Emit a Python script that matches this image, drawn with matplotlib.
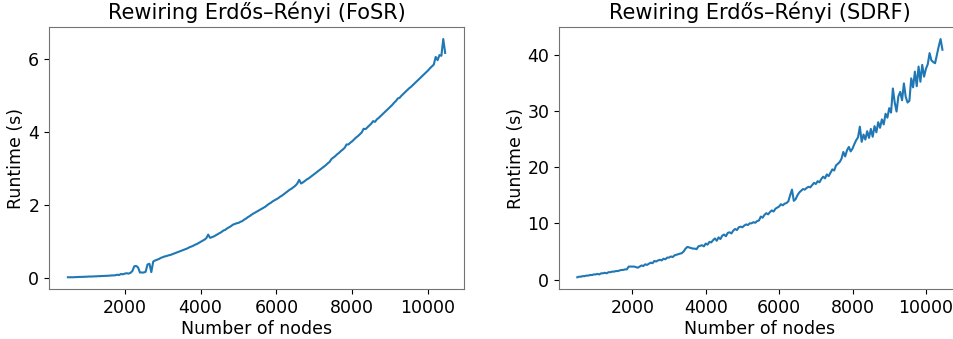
import numpy as np
import matplotlib.pyplot as plt

# graph sizes, 500 .. 10450 nodes in steps of 50
nodes = np.arange(500, 10500, 50)

# runtime (s) of FoSR rewiring per graph size
fosr_runtime = [
    0.03, 0.03, 0.03, 0.03, 0.035, 0.035, 0.04, 0.04, 0.04, 0.045,
    0.045, 0.05, 0.05, 0.05, 0.055, 0.055, 0.06, 0.06, 0.065, 0.065,
    0.07, 0.07, 0.075, 0.08, 0.08, 0.085, 0.10, 0.09, 0.12, 0.11,
    0.13, 0.14, 0.13, 0.15, 0.20, 0.33, 0.34, 0.30, 0.16, 0.16,
    0.16, 0.18, 0.38, 0.40, 0.17, 0.46, 0.49, 0.51, 0.53, 0.56,
    0.58, 0.60, 0.61, 0.63, 0.64, 0.66, 0.68, 0.70, 0.72, 0.74,
    0.76, 0.78, 0.80, 0.82, 0.85, 0.87, 0.89, 0.92, 0.94, 0.97,
    1.00, 1.03, 1.06, 1.10, 1.20, 1.11, 1.13, 1.15, 1.18, 1.21,
    1.24, 1.27, 1.31, 1.33, 1.37, 1.40, 1.43, 1.47, 1.49, 1.51,
    1.52, 1.55, 1.57, 1.61, 1.64, 1.68, 1.71, 1.75, 1.78, 1.81,
    1.84, 1.87, 1.90, 1.93, 1.96, 2.00, 2.04, 2.07, 2.11, 2.14,
    2.17, 2.20, 2.24, 2.27, 2.31, 2.35, 2.39, 2.43, 2.46, 2.50,
    2.54, 2.60, 2.70, 2.60, 2.63, 2.67, 2.71, 2.74, 2.78, 2.82,
    2.86, 2.90, 2.94, 2.98, 3.02, 3.06, 3.10, 3.15, 3.19, 3.27,
    3.31, 3.35, 3.40, 3.44, 3.49, 3.53, 3.58, 3.67, 3.67, 3.72,
    3.76, 3.81, 3.86, 3.90, 3.95, 4.00, 4.10, 4.09, 4.14, 4.19,
    4.24, 4.31, 4.29, 4.36, 4.40, 4.45, 4.50, 4.55, 4.60, 4.65,
    4.70, 4.75, 4.81, 4.86, 4.93, 4.95, 5.01, 5.06, 5.11, 5.16,
    5.21, 5.25, 5.30, 5.35, 5.40, 5.45, 5.50, 5.55, 5.60, 5.65,
    5.70, 5.76, 5.81, 5.86, 6.07, 5.98, 6.12, 6.10, 6.56, 6.18,
]

# runtime (s) of SDRF rewiring per graph size
sdrf_runtime = [
    0.4, 0.5, 0.5, 0.6, 0.6, 0.7, 0.7, 0.8, 0.8, 0.9,
    0.9, 1.0, 0.9, 1.1, 1.1, 1.2, 1.1, 1.3, 1.3, 1.4,
    1.4, 1.5, 1.5, 1.6, 1.7, 1.7, 1.8, 1.8, 2.3, 2.3,
    2.3, 2.3, 2.2, 2.1, 2.3, 2.5, 2.4, 2.7, 2.6, 2.8,
    3.0, 2.9, 3.3, 3.2, 3.4, 3.5, 3.4, 3.7, 3.6, 3.9,
    3.9, 4.1, 4.0, 4.3, 4.4, 4.5, 4.6, 4.7, 5.0, 5.5,
    5.8, 5.7, 5.6, 5.5, 5.5, 5.4, 5.9, 6.0, 6.1, 5.9,
    6.4, 6.2, 6.7, 6.6, 7.0, 7.3, 6.9, 7.5, 7.2, 7.8,
    8.0, 7.7, 8.3, 8.4, 8.2, 8.7, 9.0, 8.8, 9.3, 9.4,
    9.3, 9.6, 9.8, 9.7, 10.0, 10.0, 10.2, 10.1, 10.4, 10.5,
    11.2, 11.0, 11.5, 11.8, 11.6, 12.0, 12.3, 12.1, 12.6, 12.8,
    13.0, 13.4, 13.2, 13.5, 13.6, 13.9, 15.0, 16.0, 14.0, 14.3,
    15.0, 15.5, 15.8, 16.1, 16.0, 16.3, 16.5, 16.4, 16.8, 17.2,
    17.0, 17.5, 17.3, 17.9, 18.3, 18.0, 18.7, 18.4, 19.0, 19.6,
    19.4, 20.3, 20.6, 20.9, 21.5, 22.7, 21.9, 23.0, 23.6, 22.8,
    23.3, 24.1, 24.8, 25.3, 27.2, 24.5, 25.8, 24.9, 26.4, 25.2,
    26.8, 25.4, 27.3, 26.2, 28.0, 27.0, 28.5, 27.6, 29.5, 28.8,
    30.5, 29.7, 34.0, 31.5, 29.9, 32.6, 33.4, 31.9, 34.9, 32.5,
    31.5, 31.8, 35.8, 34.2, 37.0, 34.4, 37.9, 35.2, 38.2, 36.1,
    37.5, 38.3, 40.3, 39.0, 38.7, 38.5, 40.0, 41.5, 42.8, 40.9,
]

plt.rcParams['font.size'] = 12.5

fig = plt.figure(figsize=(9.54, 3.39), dpi=100)
ax1 = fig.add_axes([0.0514, 0.147, 0.435, 0.773])
ax2 = fig.add_axes([0.586, 0.147, 0.421, 0.773])

panels = [
    (ax1, fosr_runtime, 'Rewiring Erdős–Rényi (FoSR)'),
    (ax2, sdrf_runtime, 'Rewiring Erdős–Rényi (SDRF)'),
]
for ax, runtime, title in panels:
    ax.plot(nodes, runtime, color='tab:blue', lw=1.5)
    ax.set_title(title, fontsize=15)
    ax.set_xlabel('Number of nodes', labelpad=2)
    ax.set_ylabel('Runtime (s)', labelpad=2)
    ax.set_xticks([2000, 4000, 6000, 8000, 10000])
    for s in ax.spines.values():
        s.set_color('0.45')

ax1.set_yticks([0, 2, 4, 6])
ax2.set_yticks([0, 10, 20, 30, 40])

fig.savefig('out.png', dpi=100)
